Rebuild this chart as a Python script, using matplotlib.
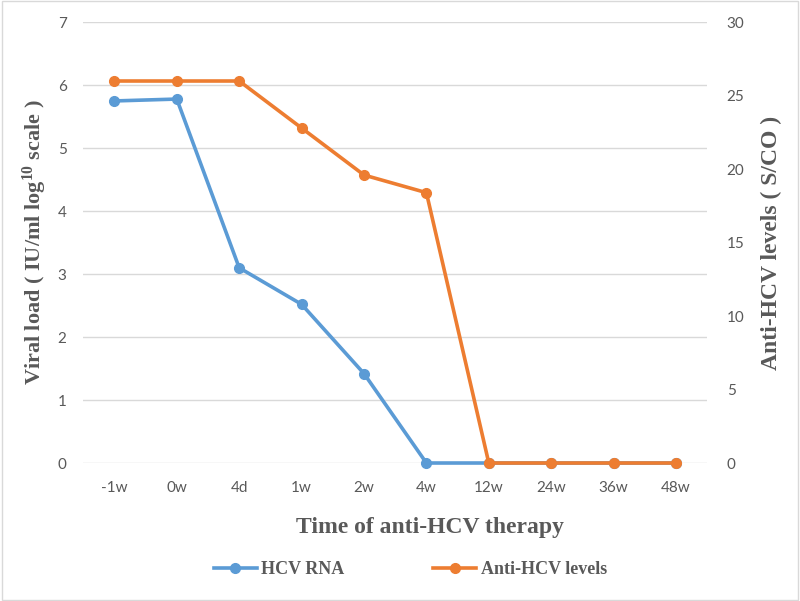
import matplotlib
matplotlib.use("Agg")
import matplotlib.pyplot as plt
from matplotlib.patches import Rectangle

categories = ["-1w", "0w", "4d", "1w", "2w", "4w", "12w", "24w", "36w", "48w"]
hcv_rna = [5.75, 5.78, 3.10, 2.52, 1.42, 0, 0, 0, 0, 0]
anti_hcv = [26.0, 26.0, 26.0, 22.8, 19.6, 18.4, 0, 0, 0, 0]
left_ticks = [0, 1, 2, 3, 4, 5, 6, 7]
right_ticks = [0, 5, 10, 15, 20, 25, 30]

BLUE = "#5B9BD5"
ORANGE = "#ED7D31"
TXT = "#595959"
GRID = "#D9D9D9"
SERIF = "Liberation Serif"
SANS = "Lato"

plt.rcParams["mathtext.fontset"] = "custom"
plt.rcParams["mathtext.rm"] = "Liberation Serif:bold"
plt.rcParams["mathtext.bf"] = "Liberation Serif:bold"
plt.rcParams["mathtext.it"] = "Liberation Serif:bold"

fig = plt.figure(figsize=(8, 6.01), dpi=100)
ax = fig.add_axes([0.104, 0.2296, 0.780, 0.7334])
ax2 = ax.twinx()

x = list(range(len(categories)))
l1, = ax.plot(x, hcv_rna, color=BLUE, lw=2.6, marker="o", ms=7, label="HCV RNA", zorder=3)
l2, = ax2.plot(x, anti_hcv, color=ORANGE, lw=2.6, marker="o", ms=7, label="Anti-HCV levels", zorder=3)
l1.set_clip_on(False)
l2.set_clip_on(False)

ax.set_xlim(-0.5, len(categories) - 0.5)
ax.set_ylim(0, 7)
ax2.set_ylim(0, 30)
ax.set_yticks(left_ticks)
ax2.set_yticks(right_ticks)
ax.set_xticks(x)
ax.set_xticklabels(categories)

ax.grid(axis="y", color=GRID, lw=1.0)
ax.set_axisbelow(True)
for a in (ax, ax2):
    for s in a.spines.values():
        s.set_visible(False)
    a.tick_params(length=0, colors=TXT, labelsize=11)
    for lab in a.get_xticklabels() + a.get_yticklabels():
        lab.set_fontfamily(SANS)
ax.tick_params(axis="y", pad=12)
ax2.tick_params(axis="y", pad=14)
ax.tick_params(axis="x", pad=13)

ax.set_ylabel(r"Viral load ( IU/ml log$^{\mathrm{10}}$ scale )", fontfamily=SERIF, fontweight="bold",
              fontsize=16, color=TXT, labelpad=6)
ax2.set_ylabel("Anti-HCV levels ( S/CO )", fontfamily=SERIF, fontweight="bold",
               fontsize=17, color=TXT, labelpad=12)
ax.set_xlabel("Time of anti-HCV therapy", fontfamily=SERIF, fontweight="bold",
              fontsize=17, color=TXT, labelpad=16)
ax.xaxis.label.set_x(0.556)

leg = fig.legend(handles=[l1, l2], loc="center", bbox_to_anchor=(0.513, 0.052), ncol=2,
                 frameon=False, handlelength=2.4, columnspacing=4.9, handletextpad=0.25,
                 prop={"family": SERIF, "weight": "bold", "size": 13})
for t in leg.get_texts():
    t.set_color(TXT)

fig.patches.append(Rectangle((0.002, 0.002), 0.996, 0.996, transform=fig.transFigure,
                             fill=False, edgecolor=GRID, lw=1.0))

fig.savefig("out.png", dpi=100)
